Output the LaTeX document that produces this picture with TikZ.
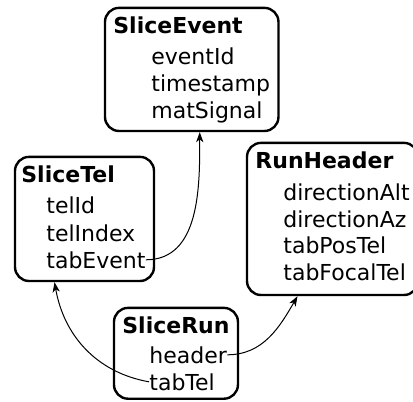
\documentclass[tikz,border=0pt]{standalone}
\usepackage{fontspec}
\setmainfont{DejaVu Sans}
\usetikzlibrary{arrows.meta,fit}
\newcommand{\classfont}{\fontsize{11}{13}\selectfont}

\begin{document}
\begin{tikzpicture}[x=0.5pt, y=-0.5pt,
    classname/.style={anchor=base west, inner sep=0pt, font=\classfont\bfseries},
    field/.style={anchor=base west, inner sep=0pt, font=\classfont},
    classbox/.style={draw, line width=1.2pt, rounded corners=7pt, inner sep=4pt},
    link/.style={-{Stealth[length=5pt,width=3.6pt,inset=1.4pt]}, line width=0.5pt}]
    \useasboundingbox (0,0) rectangle (413,402);
    % SliceEvent
    \node[classname] (evName) at (113,33) {SliceEvent};
    \foreach \f/\y in {eventId/64, timestamp/91, matSignal/118}
      \node[field] (\f) at (151,\y) {\f};
    \node[classbox, fit=(evName)(eventId)(timestamp)(matSignal)] (SliceEvent) {};
    % SliceTel
    \node[classname] (telName) at (21,182) {SliceTel};
    \foreach \f/\y in {telId/213, telIndex/241, tabEvent/268}
      \node[field] (\f) at (46,\y) {\f};
    \coordinate (telLow) at (148,273);
    \node[classbox, inner xsep=3pt, fit=(telName)(telId)(telIndex)(tabEvent)(telLow)] (SliceTel) {};
    % RunHeader
    \node[classname] (hdrName) at (255,168) {RunHeader};
    \foreach \f/\y in {directionAlt/200, directionAz/227, tabPosTel/253, tabFocalTel/280}
      \node[field] (\f) at (283,\y) {\f};
    \coordinate (hdrLow) at (283,287);
    \node[classbox, fit=(hdrName)(directionAlt)(directionAz)(tabPosTel)(tabFocalTel)(hdrLow)] (RunHeader) {};
    % SliceRun
    \node[classname] (runName) at (122,333) {SliceRun};
    \foreach \f/\y in {header/363, tabTel/390}
      \node[field] (\f) at (149,\y) {\f};
    \node[classbox, fit=(runName)(header)(tabTel)] (SliceRun) {};
    % Links
    \draw[link] (tabEvent.east) to[out=0, in=-90] ([xshift=4pt]SliceEvent.south);
    \draw[link] (tabTel.west) to[out=170, in=-80] ([xshift=-15pt]SliceTel.south);
    \draw[link] (header.east) to[out=0, in=-120] ([xshift=-17.5pt]RunHeader.south);
\end{tikzpicture}
\end{document}
